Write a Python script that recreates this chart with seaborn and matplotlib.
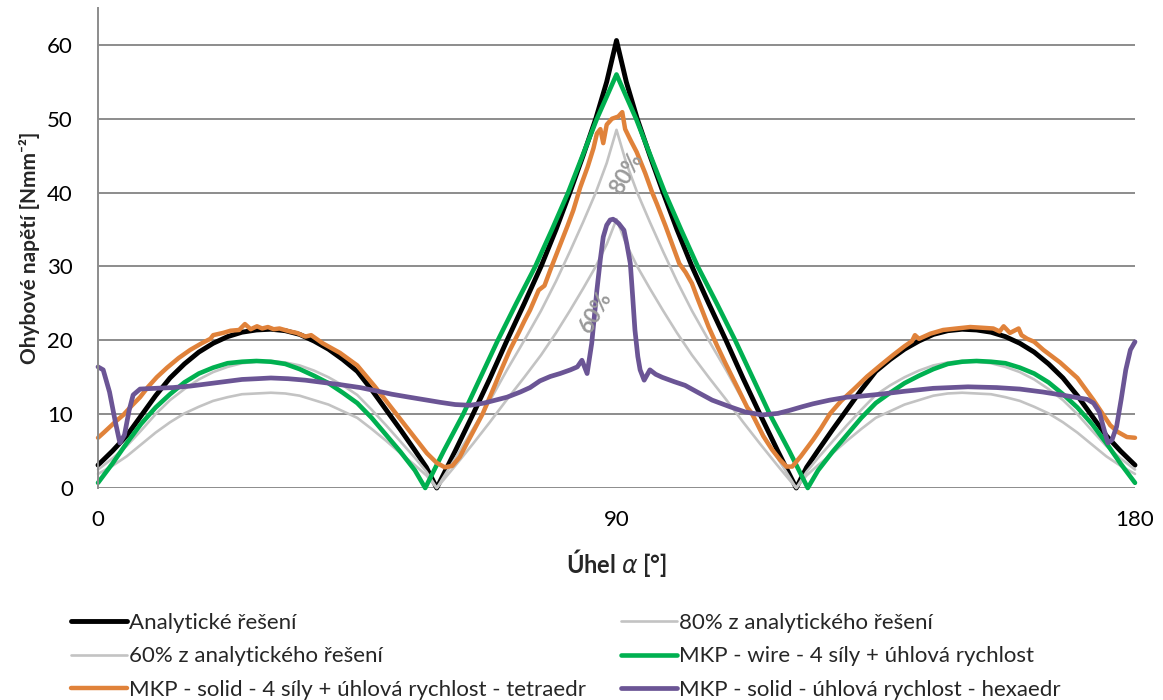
import matplotlib
matplotlib.use("Agg")
import matplotlib.pyplot as plt
import pandas as pd
import seaborn as sns

# ---------------- data ----------------
x_an = [0, 2.5, 5, 7.5, 10, 12.5, 15, 17.5, 20, 22.5, 25, 27.5, 30, 32.5, 35, 37.5,
        40, 42.5, 45, 47.5, 50, 52.5, 55, 57, 58.8,
        62, 65.1, 68, 71, 74, 76.9, 79.5, 81.9, 84.2, 86.4, 88.3, 90,
        91.7, 93.6, 95.8, 98.1, 100.5, 103.1, 106, 109, 112, 114.9, 118,
        121.2, 123, 125, 127.5, 130, 132.5, 135, 137.5, 140, 142.5, 145, 147.5,
        150, 152.5, 155, 157.5, 160, 162.5, 165, 167.5, 170, 172.5, 175, 177.5, 180]
y_analytic = [3.1, 5.0, 7.1, 9.8, 12.5, 14.9, 16.8, 18.4, 19.6, 20.5, 21.1, 21.4, 21.5, 21.3, 20.8, 19.9,
              18.8, 17.4, 15.8, 13.3, 10.6, 7.9, 5.1, 2.8, 0.0,
              5.0, 10.0, 14.8, 20.0, 25.0, 30.0, 35.0, 40.0, 45.0, 50.0, 55.0, 60.6,
              55.0, 50.0, 45.0, 40.0, 35.0, 30.0, 25.0, 20.0, 14.8, 10.0, 5.0,
              0.0, 2.8, 5.1, 7.9, 10.6, 13.3, 15.8, 17.4, 18.8, 19.9, 20.8, 21.3,
              21.5, 21.4, 21.1, 20.5, 19.6, 18.4, 16.8, 14.9, 12.5, 9.8, 7.1, 5.0, 3.1]
y_80 = [2.5, 4.0, 5.7, 7.8, 10.0, 11.9, 13.4, 14.7, 15.7, 16.4, 16.9, 17.1, 17.2, 17.0, 16.6, 15.9,
        15.0, 13.9, 12.6, 10.6, 8.5, 6.3, 4.1, 2.2, 0.0,
        4.0, 8.0, 11.8, 16.0, 20.0, 24.0, 28.0, 32.0, 36.0, 40.0, 44.0, 48.5,
        44.0, 40.0, 36.0, 32.0, 28.0, 24.0, 20.0, 16.0, 11.8, 8.0, 4.0,
        0.0, 2.2, 4.1, 6.3, 8.5, 10.6, 12.6, 13.9, 15.0, 15.9, 16.6, 17.0,
        17.2, 17.1, 16.9, 16.4, 15.7, 14.7, 13.4, 11.9, 10.0, 7.8, 5.7, 4.0, 2.5]
y_60 = [1.9, 3.0, 4.3, 5.9, 7.5, 8.9, 10.1, 11.0, 11.8, 12.3, 12.7, 12.8, 12.9, 12.8, 12.5, 11.9,
        11.3, 10.4, 9.5, 8.0, 6.4, 4.7, 3.1, 1.7, 0.0,
        3.0, 6.0, 8.9, 12.0, 15.0, 18.0, 21.0, 24.0, 27.0, 30.0, 33.0, 36.4,
        33.0, 30.0, 27.0, 24.0, 21.0, 18.0, 15.0, 12.0, 8.9, 6.0, 3.0,
        0.0, 1.7, 3.1, 4.7, 6.4, 8.0, 9.5, 10.4, 11.3, 11.9, 12.5, 12.8,
        12.9, 12.8, 12.7, 12.3, 11.8, 11.0, 10.1, 8.9, 7.5, 5.9, 4.3, 3.0, 1.9]

x_wire = [0, 2.5, 5, 7.5, 10, 12.5, 15, 17.5, 20, 22.5, 25, 27.5, 30, 32.5, 35, 37.5,
          40, 42.5, 45, 47.5, 50, 52.5, 55, 56.8,
          60, 63.4, 66.4, 69.4, 72.6, 75.9, 78.8, 81.6, 84.1, 86.6, 88.3, 90,
          91.7, 93.4, 95.9, 98.4, 101.2, 104.1, 107.4, 110.6, 113.6, 116.6, 120,
          123.2, 125, 127.5, 130, 132.5, 135, 137.5, 140, 142.5, 145, 147.5, 150,
          152.5, 155, 157.5, 160, 162.5, 165, 167.5, 170, 172.5, 175, 177.5, 180]
y_wire = [0.7, 3.3, 6.1, 8.7, 10.9, 12.7, 14.3, 15.5, 16.3, 16.9, 17.1, 17.2, 17.1, 16.8, 16.1, 15.2,
          14.2, 12.9, 11.5, 9.5, 7.2, 4.9, 2.4, 0.0,
          5.0, 10.0, 15.0, 20.0, 25.0, 30.0, 35.0, 40.0, 45.0, 50.0, 53.0, 56.0,
          53.0, 50.0, 45.0, 40.0, 35.0, 30.0, 25.0, 20.0, 15.0, 10.0, 5.0,
          0.0, 2.4, 4.9, 7.2, 9.5, 11.5, 12.9, 14.2, 15.2, 16.1, 16.8, 17.1,
          17.2, 17.1, 16.9, 16.3, 15.5, 14.3, 12.7, 10.9, 8.7, 6.1, 3.3, 0.7]

x_tetra = [0, 1, 2.1, 3.2, 4.4, 5.8, 7.3, 8.7, 10.2, 12,
           14, 16, 18, 19.5, 20, 21.7, 23, 24.5, 25.5, 26.5,
           27.6, 28.5, 29.5, 30.5, 31.5, 33.3, 34.5, 36, 37, 39,
           42, 45, 48, 51.2, 54, 57.1, 58.8, 60.2, 61.5, 62.8,
           64, 65.1, 66.8, 68.5, 70, 71.5, 73, 74, 75, 76.5,
           77.5, 78.5, 80, 81.5, 82.5, 83.7, 85, 86, 86.6, 87.2,
           87.7, 88.3, 89.2, 90.3, 91.0, 91.5, 92.5, 93.5, 95, 96.2,
           97, 98.5, 100, 100.9, 102, 103.1, 104, 106, 107.5, 108.9,
           111, 112.7, 113.5, 115.5, 117, 118.4, 119.5, 120.5, 122, 124.1,
           125.5, 127.1, 129, 131.1, 133.5, 135.8, 138, 140, 141.3, 141.8,
           142.5, 144.5, 146.7, 149, 151.4, 153.5, 155.4, 156.5, 157.2, 158.3,
           159.8, 160.3, 161.3, 162.5, 164.1, 167, 170, 172.8, 175.7, 177,
           178.6, 180]
y_tetra = [6.8, 7.5, 8.3, 9.1, 9.9, 11.1, 12.3, 13.7, 15.0, 16.3,
           17.6, 18.7, 19.6, 20.2, 20.7, 21.0, 21.3, 21.4, 22.2, 21.5,
           21.9, 21.6, 21.8, 21.5, 21.6, 21.2, 21.0, 20.5, 20.7, 19.6,
           18.3, 16.6, 13.8, 10.6, 7.8, 4.7, 3.4, 2.8, 3.0, 4.2,
           6.0, 7.6, 10.1, 13.2, 16.0, 18.7, 21.0, 22.6, 24.1, 26.8,
           27.4, 29.5, 32.5, 35.5, 37.6, 40.7, 43.5, 46.0, 48.0, 48.6,
           46.7, 49.2, 50.0, 50.3, 50.9, 48.6, 47.0, 45.5, 42.6, 40.0,
           38.5, 35.5, 32.3, 30.4, 29.2, 27.7, 25.8, 21.8, 19.2, 16.9,
           13.6, 10.9, 10.1, 7.0, 5.2, 3.8, 2.9, 2.9, 4.3, 6.5,
           8.1, 10.1, 11.8, 13.3, 15.1, 16.6, 18.0, 19.2, 19.9, 20.7,
           20.2, 20.9, 21.4, 21.6, 21.8, 21.7, 21.6, 21.2, 21.9, 21.0,
           21.6, 20.7, 20.2, 19.8, 18.7, 17.0, 14.9, 11.9, 8.5, 7.6,
           6.9, 6.8]

x_hexa = [0, 0.9, 2.0, 3.0, 3.8, 4.6, 5.4, 6.1, 7.3, 10,
          13, 16, 19, 22, 25, 27.6, 30, 33, 36, 39,
          42, 45.5, 48, 51, 54, 57.1, 59.4, 62, 64.6, 67,
          69, 71, 73.3, 75, 76.7, 78.5, 80.2, 82, 83.2, 84.0,
          84.9, 85.7, 86.1, 86.6, 87.2, 87.7, 88.3, 88.9, 89.4, 89.8,
          90.4, 91.3, 91.8, 92.4, 92.8, 93.2, 93.7, 94.1, 94.8, 95.8,
          96.8, 97.9, 100, 101.9, 104, 106.6, 109.7, 112.3, 115.3, 118,
          120, 122.2, 124.1, 127, 130, 132, 135.8, 140, 145, 151,
          156, 160, 164, 168, 171.7, 172.8, 173.8, 174.6, 175.3, 176.0,
          176.8, 177.6, 178.4, 179.2, 180]
y_hexa = [16.4, 16.0, 13.0, 9.0, 6.1, 7.2, 10.5, 12.6, 13.4, 13.5,
          13.6, 13.8, 14.1, 14.4, 14.7, 14.8, 14.9, 14.8, 14.6, 14.3,
          14.0, 13.6, 13.2, 12.7, 12.3, 11.9, 11.6, 11.3, 11.2, 11.5,
          11.9, 12.3, 13.0, 13.6, 14.5, 15.1, 15.5, 16.0, 16.4, 17.3,
          15.5, 19.6, 22.8, 26.8, 31.0, 34.0, 35.6, 36.3, 36.4, 36.2,
          35.8, 34.9, 33.0, 30.4, 26.0, 21.4, 17.8, 16.0, 14.6, 16.0,
          15.4, 15.0, 14.4, 13.9, 13.0, 11.9, 11.0, 10.3, 9.9, 10.1,
          10.5, 11.0, 11.4, 11.9, 12.3, 12.4, 12.7, 13.1, 13.5, 13.7,
          13.6, 13.4, 13.0, 12.5, 12.0, 11.5, 10.3, 8.0, 6.1, 6.5,
          8.3, 12.0, 16.0, 18.7, 19.8]

labels = ["Analytické řešení",
          "80% z analytického řešení",
          "60% z analytického řešení",
          "MKP - wire - 4 síly + úhlová rychlost",
          "MKP - solid - 4 síly + úhlová rychlost - tetraedr",
          "MKP - solid - úhlová rychlost - hexaedr"]
x_ticks = [0, 90, 180]
y_ticks = [0, 10, 20, 30, 40, 50, 60]

# ---------------- styling ----------------
sns.set_style("white")
plt.rcParams['font.family'] = ['Lato', 'DejaVu Sans']

colors = ["#000000", "#c3c3c3", "#c3c3c3", "#00b050", "#e0823a", "#6b5595"]
widths = [3.5, 1.9, 1.9, 3.3, 3.2, 3.4]
series = [(x_an, y_analytic), (x_an, y_80), (x_an, y_60),
          (x_wire, y_wire), (x_tetra, y_tetra), (x_hexa, y_hexa)]

W, H = 1163, 700
fig = plt.figure(figsize=(W / 100, H / 100), dpi=100)
ax = fig.add_axes([98 / W, 1 - 488 / H, (1135 - 98) / W, (488 - 8) / H])

handles = []
for (xs, ys), lab, c, lw in zip(series, labels, colors, widths):
    assert len(xs) == len(ys), lab
    df = pd.DataFrame({"x": xs, "y": ys})
    sns.lineplot(data=df, x="x", y="y", ax=ax, color=c, linewidth=lw,
                 estimator=None, sort=False, legend=False)
    ln = ax.lines[-1]
    ln.set_clip_on(False)
    ln.set_solid_joinstyle("round")
    ln.set_solid_capstyle("round")
    ln.set_label(lab)
    handles.append(ln)

ax.set_xlim(0, 180)
ax.set_ylim(0, 65)
ax.set_xticks(x_ticks)
ax.set_yticks(y_ticks)
ax.yaxis.grid(True, color="#8c8c8c", linewidth=1.4)
ax.set_axisbelow(True)
for s in ["top", "right", "bottom"]:
    ax.spines[s].set_visible(False)
ax.spines["left"].set_color("#8c8c8c")
ax.spines["left"].set_linewidth(1.4)
ax.tick_params(axis="both", length=0, labelsize=16, colors="black")
ax.tick_params(axis="y", pad=18)
ax.tick_params(axis="x", pad=16)

ax.set_xlabel(r"Úhel $\alpha$ [°]", fontsize=17, fontweight="bold")
ax.set_ylabel("Ohybové napětí [Nmm⁻²]", fontsize=15, fontweight="bold")
ax.xaxis.set_label_coords(0.5, -0.122)
ax.yaxis.set_label_coords(-0.056, 0.5)

ax.text(91.8, 42.6, "80%", rotation=60, color="#9a9a9a", fontsize=16, fontweight="bold",
        ha="center", va="center", rotation_mode="anchor")
ax.text(86.3, 23.7, "60%", rotation=60, color="#9a9a9a", fontsize=16, fontweight="bold",
        ha="center", va="center", rotation_mode="anchor")

common = dict(loc="upper left", frameon=False, fontsize=16, handlelength=2.5,
              handletextpad=0.1, labelspacing=0.6, borderpad=0, borderaxespad=0)
fig.legend(handles=[handles[0], handles[2], handles[4]],
           labels=[labels[0], labels[2], labels[4]],
           bbox_to_anchor=(71 / W, 1 - 613 / H), **common)
fig.legend(handles=[handles[1], handles[3], handles[5]],
           labels=[labels[1], labels[3], labels[5]],
           bbox_to_anchor=(621 / W, 1 - 613 / H), **common)

fig.savefig("out.png", dpi=100)
